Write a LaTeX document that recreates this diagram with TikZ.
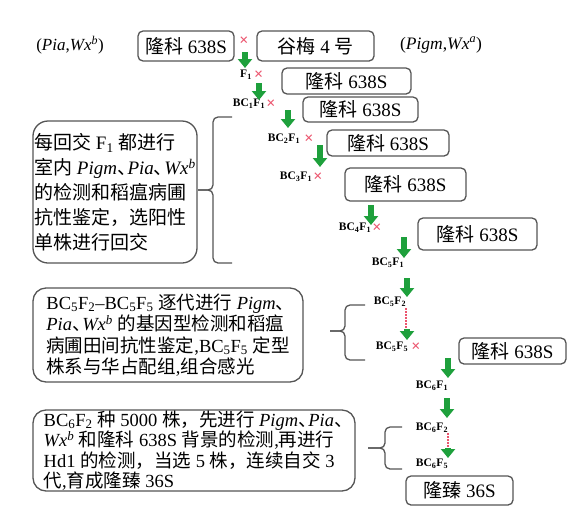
\documentclass[tikz,border=0pt]{standalone}
\usepackage{fontspec}
\setmainfont{Liberation Serif}
\newfontfamily\cjk{Noto Sans CJK SC}
\usetikzlibrary{arrows.meta,positioning}
\newcommand{\zh}[1]{{\cjk #1}}
\newcommand{\dun}{{\cjk 、}\kern-.45em}
\newcommand{\gn}[1]{\textit{#1}}
\newcommand{\wx}[1]{\textit{Wx}\textsuperscript{\textit{#1}}}
\definecolor{arrgreen}{RGB}{30,160,60}
\definecolor{crossred}{RGB}{235,85,110}
\definecolor{boxgray}{RGB}{85,85,85}

\begin{document}
\begin{tikzpicture}[x=1pt,y=-1pt,
  box/.style={draw=boxgray,line width=1.3pt,rounded corners=5pt,inner sep=0pt,font=\fontsize{19}{22}\selectfont},
  note/.style={draw=boxgray,line width=1.3pt,rounded corners=13pt,inner sep=0pt,align=left},
  gen/.style={inner sep=1pt,font=\fontsize{11.5}{12}\selectfont\bfseries},
  cross/.style={inner sep=0pt,text=crossred,font=\fontsize{16}{16}\selectfont\bfseries},
  garrow/.style={arrgreen,line width=5.5pt,-{Triangle[width=14pt,length=9pt]}},
  link/.style={crossred,line width=1.5pt,dash pattern=on 1.5pt off 1.5pt},
  brace/.style={boxgray,line width=1.3pt,rounded corners=5pt}]
  \useasboundingbox (0,0) rectangle (571,520);

  \node [font=\fontsize{17}{19}\selectfont] (g1) at (70,45) {(\gn{Pia},\wx{b})};
  \node [box,minimum width=96pt,minimum height=30pt] (p1) at (186,46) {\zh{隆科} 638S};
  \node [cross] (c0) at (244,41) {×};
  \node [box,minimum width=117pt,minimum height=30pt] (p2) at (315.5,46) {\zh{谷梅} 4 \zh{号}};
  \node [font=\fontsize{17.5}{19}\selectfont] (g2) at (441,45) {(\gn{Pigm},\wx{a})};

  \node [gen] (f1) at (246,75) {F\textsubscript{1}};
  \node [cross,right=1pt of f1] (c1) {×};
  \node [box,minimum width=129pt,minimum height=26pt] (r1) at (346.5,81) {\zh{隆科} 638S};
  \node [gen] (bc1) at (249,104) {BC\textsubscript{1}F\textsubscript{1}};
  \node [cross,right=0pt of bc1] (c2) {×};
  \node [box,minimum width=115pt,minimum height=25pt] (r2) at (360.5,109.5) {\zh{隆科} 638S};
  \node [gen] (bc2) at (284,139) {BC\textsubscript{2}F\textsubscript{1}};
  \node [cross,right=3pt of bc2] (c3) {×};
  \node [box,minimum width=122pt,minimum height=26pt] (r3) at (388,143) {\zh{隆科} 638S};
  \node [gen] (bc3) at (296,177) {BC\textsubscript{3}F\textsubscript{1}};
  \node [cross,right=0pt of bc3] (c4) {×};
  \node [box,minimum width=121pt,minimum height=33pt] (r4) at (405.5,184.5) {\zh{隆科} 638S};
  \node [gen] (bc4) at (355,228) {BC\textsubscript{4}F\textsubscript{1}};
  \node [cross,right=0pt of bc4] (c5) {×};
  \node [box,minimum width=119pt,minimum height=32pt] (r5) at (477.5,234) {\zh{隆科} 638S};
  \node [gen] (bc51) at (388,263) {BC\textsubscript{5}F\textsubscript{1}};
  \node [gen] (bc52) at (390,302) {BC\textsubscript{5}F\textsubscript{2}};
  \node [gen] (bc55) at (392,347) {BC\textsubscript{5}F\textsubscript{5}};
  \node [cross,right=2pt of bc55] (c6) {×};
  \node [box,minimum width=107pt,minimum height=26pt] (r6) at (512.5,351) {\zh{隆科} 638S};
  \node [gen] (bc61) at (432,386) {BC\textsubscript{6}F\textsubscript{1}};
  \node [gen] (bc62) at (432,428) {BC\textsubscript{6}F\textsubscript{2}};
  \node [gen] (bc65) at (432,464) {BC\textsubscript{6}F\textsubscript{5}};
  \node [box,minimum width=107pt,minimum height=29pt] (r7) at (459.5,490.5) {\zh{隆臻} 36S};

  \node [note,minimum width=164pt,minimum height=142pt,rounded corners=15pt,font=\fontsize{19}{25}\selectfont] (n1) at (115,192)
    {\zh{每回交} F\textsubscript{1} \zh{都进行}\\
     \zh{室内} \gn{Pigm}\dun\gn{Pia}\dun\wx{b}\\
     \zh{的检测和稻瘟病圃}\\
     \zh{抗性鉴定，选阳性}\\
     \zh{单株进行回交}};
  \node [note,minimum width=270pt,minimum height=94pt,font=\fontsize{18.5}{21.5}\selectfont] (n2) at (168,335)
    {BC\textsubscript{5}F\textsubscript{2}--BC\textsubscript{5}F\textsubscript{5} \zh{逐代进行} \gn{Pigm}\dun\\
     \gn{Pia}\dun\wx{b} \zh{的基因型检测和稻瘟}\\
     \zh{病圃田间抗性鉴定},BC\textsubscript{5}F\textsubscript{5} \zh{定型}\\
     \zh{株系与华占配组},\zh{组合感光}};
  \node [note,minimum width=322pt,minimum height=81pt,font=\fontsize{18.5}{20.5}\selectfont] (n3) at (194,450.5)
    {BC\textsubscript{6}F\textsubscript{2} \zh{种} 5000 \zh{株，先进行} \gn{Pigm}\dun\gn{Pia}\dun\\
     \wx{b} \zh{和隆科} 638S \zh{背景的检测},\zh{再进行}\\
     Hd1 \zh{的检测，当选} 5 \zh{株，连续自交} 3\\
     \zh{代},\zh{育成隆臻} 36S};

  \draw[garrow] ([shift={(1,11)}]c0.center) -- ([shift={(-1,-7)}]f1.center);
  \draw[garrow] ([shift={(13,8)}]f1.center) -- ([shift={(10,-4)}]bc1.center);
  \draw[garrow] ([shift={(39,6)}]bc1.center) -- ([shift={(4,-11)}]bc2.center);
  \draw[garrow] ([shift={(36,6)}]bc2.center) -- ([shift={(24,-10)}]bc3.center);
  \draw[garrow] ([shift={(75,28)}]bc3.center) -- ([shift={(16,-3)}]bc4.center);
  \draw[garrow] ([shift={(49,9)}]bc4.center) -- ([shift={(16,-5)}]bc51.center);
  \draw[garrow] ([shift={(19,15)}]bc51.center) -- ([shift={(17,-5)}]bc52.center);
  \draw[link] ([shift={(16,6)}]bc52.center) -- ([shift={(14,-19)}]bc55.center);
  \draw[garrow] ([shift={(17,27)}]bc52.center) -- ([shift={(15,-7)}]bc55.center);
  \draw[garrow] ([shift={(56,11)}]bc55.center) -- ([shift={(16,-8)}]bc61.center);
  \draw[garrow] ([shift={(15,12)}]bc61.center) -- ([shift={(15,-10)}]bc62.center);
  \draw[link] ([shift={(16,5)}]bc62.center) -- ([shift={(16,-16)}]bc65.center);
  \draw[garrow] ([shift={(16,20)}]bc62.center) -- ([shift={(16,-6)}]bc65.center);

  \draw[brace] (232,117) -- (213,117) -- (213,190) -- (198,190);
  \draw[brace] (232,263) -- (213,263) -- (213,190) -- (198,190);
  \draw[brace] (365,305) -- (345,305) -- (345,331) -- (330,331);
  \draw[brace] (365,360) -- (345,360) -- (345,331) -- (330,331);
  \draw[brace] (402,427) -- (385,427) -- (385,448) -- (368,448);
  \draw[brace] (402,469) -- (385,469) -- (385,448) -- (368,448);
\end{tikzpicture}
\end{document}
